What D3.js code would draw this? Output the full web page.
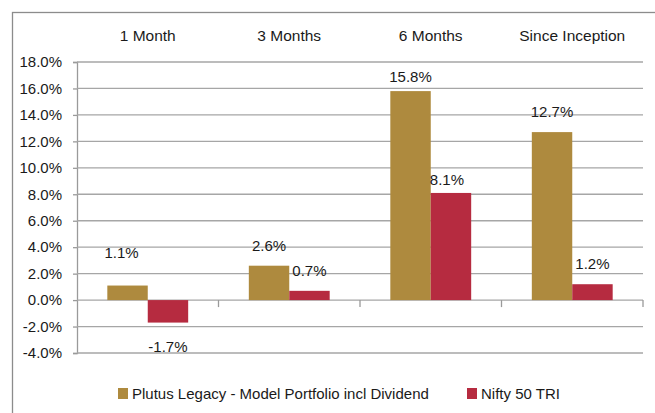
<!DOCTYPE html>
<html><head><meta charset="utf-8">
<script src="https://cdn.jsdelivr.net/npm/d3@7"></script>
<style>
html,body{margin:0;padding:0;background:#fff;}
svg text{font-family:"Liberation Sans",Arial,sans-serif;fill:#1a1a1a;}
</style></head>
<body><svg id="c" width="655" height="413"></svg>
<script>
const categories = ["1 Month", "3 Months", "6 Months", "Since Inception"];
const seriesNames = ["Plutus Legacy - Model Portfolio incl Dividend", "Nifty 50 TRI"];
const plutus = [1.1, 2.6, 15.8, 12.7];
const nifty = [-1.7, 0.7, 8.1, 1.2];
const yTicks = [-4, -2, 0, 2, 4, 6, 8, 10, 12, 14, 16, 18];
const colors = ["#AE8A3E", "#B62B40"];
// label nudges (px) relative to default placement, per series per category
const labelNudge = [[[-6, -13], [0, 0], [0, 6], [0, 0]], [[0, 0], [0, 0], [-4, 7], [0, 0]]];

const svg = d3.select("#c");
const W = 655, H = 413;
const x0 = d3.scaleBand().domain(categories).range([77, 643]).paddingInner(0).paddingOuter(0);
const x1 = d3.scaleBand().domain([0, 1]).range([0, x0.bandwidth()]).paddingOuter(0.75).paddingInner(0);
const y = d3.scaleLinear().domain([-4, 18]).range([353, 62]);

// outer border
svg.append("rect").attr("x", 12.5).attr("y", 12.5).attr("width", W).attr("height", H)
  .attr("fill", "none").attr("stroke", "#8c8c8c").attr("stroke-width", 1.3);

// y axis
const yAxis = d3.axisLeft(y).tickValues(yTicks).tickSize(4).tickPadding(11)
  .tickFormat(d => d.toFixed(1) + "%");
const gy = svg.append("g").attr("transform", "translate(77,0)").call(yAxis);
gy.select(".domain").attr("stroke", "#9a9a9a").attr("stroke-width", 1.3);
gy.selectAll(".tick line").attr("stroke", "#9a9a9a").attr("stroke-width", 1.3);
gy.selectAll(".tick text").attr("font-size", 15).style("font-family", "'Liberation Sans',Arial,sans-serif").attr("fill", "#1a1a1a");
// gridlines
svg.append("g").selectAll("line").data(yTicks).join("line")
  .attr("x1", 77).attr("x2", 643).attr("y1", d => y(d)).attr("y2", d => y(d))
  .attr("stroke", "#a6a6a6").attr("stroke-width", 1.3);

// category ticks on zero line
const catEdges = categories.map(c => x0(c) + x0.bandwidth());
svg.append("g").selectAll("line").data(catEdges).join("line")
  .attr("x1", d => d).attr("x2", d => d).attr("y1", y(0)).attr("y2", y(0) + 7)
  .attr("stroke", "#9a9a9a").attr("stroke-width", 1.3);

// category labels on top
svg.append("g").selectAll("text").data(categories).join("text")
  .attr("x", d => x0(d) + x0.bandwidth() / 2).attr("y", 41)
  .attr("text-anchor", "middle").attr("font-size", 15.5).text(d => d);

// bars + labels
const series = [plutus, nifty];
series.forEach((vals, si) => {
  const g = svg.append("g");
  g.selectAll("rect").data(vals).join("rect")
    .attr("x", (d, i) => x0(categories[i]) + x1(si))
    .attr("width", x1.bandwidth())
    .attr("y", d => y(Math.max(0, d)))
    .attr("height", d => Math.abs(y(d) - y(0)))
    .attr("fill", colors[si]);
  g.selectAll("text").data(vals).join("text")
    .attr("x", (d, i) => x0(categories[i]) + x1(si) + x1.bandwidth() / 2 + labelNudge[si][i][0])
    .attr("y", (d, i) => (d >= 0 ? y(d) - 15 : y(d) + 29) + labelNudge[si][i][1])
    .attr("text-anchor", "middle").attr("font-size", 15)
    .text(d => d.toFixed(1) + "%");
});

// legend
const leg = svg.append("g");
const legX = [118, 467];
seriesNames.forEach((n, i) => {
  leg.append("rect").attr("x", legX[i]).attr("y", 388).attr("width", 10).attr("height", 11).attr("fill", colors[i]);
  leg.append("text").attr("x", legX[i] + 14).attr("y", 399).attr("font-size", 15).text(n);
});
</script></body></html>
